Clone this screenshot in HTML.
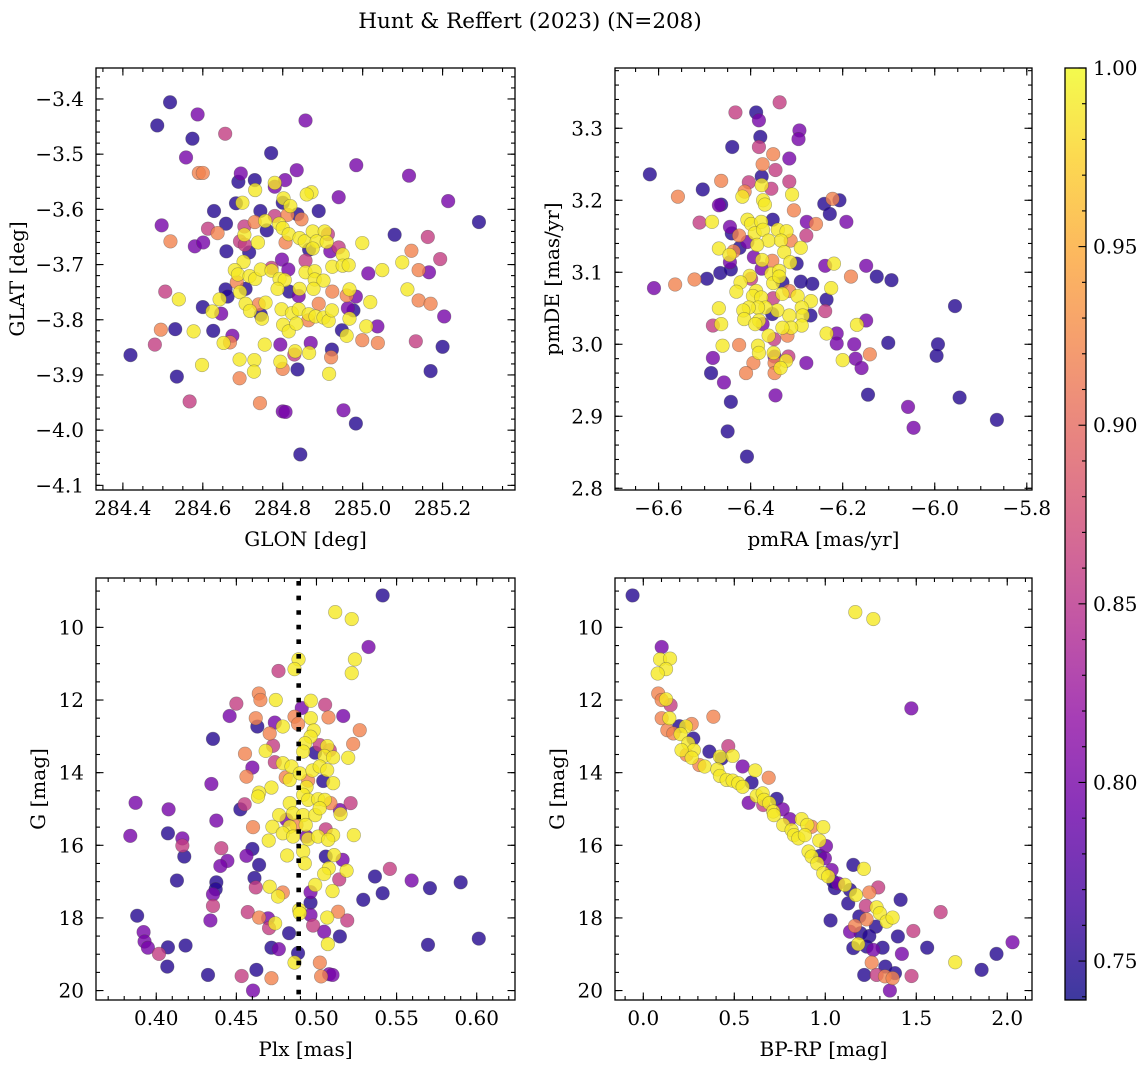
<!DOCTYPE html>
<html><head><meta charset="utf-8"><style>
html,body{margin:0;padding:0;background:#fff;}
svg{display:block;font-family:"DejaVu Serif","Liberation Serif",serif;}
</style></head><body>
<svg id="fig" width="1148" height="1067" viewBox="0 0 1148 1067" xmlns="http://www.w3.org/2000/svg">
<text x="530" y="28" font-size="21.5" text-anchor="middle">Hunt &amp; Reffert (2023) (N=208)</text>
</svg>
<script>
// ---- Panel 1: GLON vs GLAT ----
const glon=[284.518,284.486,284.587,284.574,284.656,284.857,284.771,284.558,284.590,284.600,284.695,284.689,284.730,284.806,284.835,284.984,285.116,284.780,284.731,284.780,284.872,284.860,284.940,285.214,285.291,284.628,284.683,284.699,284.744,284.800,284.802,284.819,284.890,284.812,284.837,284.847,284.756,284.760,284.780,284.730,284.497,284.613,284.658,284.637,284.704,284.704,284.791,284.800,284.815,284.842,284.855,284.875,284.905,284.913,284.885,284.910,284.519,284.580,284.601,284.659,284.693,284.705,284.716,284.738,284.807,284.866,284.875,284.919,284.940,284.999,285.080,285.122,285.163,285.194,285.014,285.049,285.099,285.140,285.166,284.950,284.924,284.950,284.965,284.702,284.680,284.688,284.685,284.717,284.731,284.745,284.772,284.772,284.798,284.814,284.792,284.805,284.787,284.857,284.857,284.880,284.880,284.902,284.877,284.842,284.816,284.840,284.924,284.967,284.960,284.983,285.019,285.112,285.140,285.170,285.204,284.506,284.540,284.600,284.642,284.657,284.662,284.707,284.693,284.707,284.718,284.740,284.745,284.748,284.757,284.646,284.624,284.797,284.823,284.840,284.801,284.815,284.834,284.864,284.865,284.882,284.890,284.902,284.915,284.923,284.963,284.977,284.967,285.009,285.037,284.960,284.948,284.999,285.038,285.133,285.200,285.170,284.495,284.480,284.419,284.531,284.577,284.626,284.674,284.652,284.668,284.755,284.794,284.829,284.831,284.870,284.866,284.923,284.921,284.598,284.692,284.692,284.729,284.728,284.794,284.800,284.837,284.916,284.535,284.567,284.743,284.800,284.807,284.952,284.983,284.844];
const glat=[-3.406,-3.448,-3.428,-3.472,-3.463,-3.439,-3.498,-3.506,-3.534,-3.534,-3.535,-3.550,-3.547,-3.547,-3.529,-3.520,-3.539,-3.552,-3.565,-3.559,-3.569,-3.573,-3.578,-3.585,-3.623,-3.603,-3.589,-3.588,-3.603,-3.588,-3.580,-3.594,-3.603,-3.610,-3.609,-3.618,-3.621,-3.638,-3.612,-3.623,-3.629,-3.635,-3.626,-3.643,-3.631,-3.646,-3.626,-3.634,-3.645,-3.652,-3.658,-3.640,-3.640,-3.645,-3.658,-3.659,-3.658,-3.667,-3.660,-3.676,-3.658,-3.664,-3.678,-3.660,-3.660,-3.673,-3.671,-3.676,-3.669,-3.661,-3.646,-3.675,-3.650,-3.690,-3.716,-3.710,-3.696,-3.710,-3.714,-3.682,-3.704,-3.702,-3.701,-3.695,-3.710,-3.718,-3.732,-3.721,-3.726,-3.709,-3.706,-3.711,-3.691,-3.709,-3.726,-3.728,-3.744,-3.693,-3.714,-3.712,-3.727,-3.729,-3.744,-3.744,-3.749,-3.757,-3.749,-3.745,-3.756,-3.758,-3.768,-3.745,-3.765,-3.771,-3.794,-3.749,-3.763,-3.777,-3.763,-3.745,-3.758,-3.744,-3.750,-3.771,-3.784,-3.772,-3.791,-3.798,-3.769,-3.789,-3.785,-3.781,-3.788,-3.781,-3.809,-3.821,-3.807,-3.801,-3.790,-3.794,-3.771,-3.796,-3.802,-3.783,-3.779,-3.783,-3.798,-3.812,-3.812,-3.829,-3.819,-3.837,-3.842,-3.839,-3.849,-3.893,-3.818,-3.845,-3.864,-3.817,-3.821,-3.820,-3.829,-3.842,-3.841,-3.845,-3.845,-3.863,-3.857,-3.842,-3.860,-3.854,-3.868,-3.882,-3.872,-3.906,-3.873,-3.894,-3.876,-3.889,-3.890,-3.898,-3.903,-3.948,-3.951,-3.966,-3.967,-3.964,-3.988,-4.044];
const prob1=[.75,.75,.8,.75,.86,.8,.75,.8,.92,.92,.8,.75,.75,.8,.8,.8,.8,.99,.99,.8,.99,.99,.8,.8,.75,.75,.75,.99,.75,.75,.99,.99,.75,.92,.75,.92,.99,.75,.86,.92,.8,.86,.75,.92,.86,.99,.99,.99,.99,.99,.99,.99,.99,.86,.99,.99,.92,.8,.8,.75,.86,.86,.75,.99,.92,.75,.99,.8,.86,.99,.75,.92,.86,.86,.8,.99,.99,.92,.8,.99,.99,.99,.99,.99,.99,.99,.92,.99,.99,.99,.86,.99,.8,.8,.99,.99,.99,.86,.99,.99,.99,.99,.99,.99,.75,.8,.92,.99,.92,.8,.99,.99,.92,.92,.8,.86,.99,.75,.99,.75,.75,.75,.99,.99,.99,.92,.75,.99,.99,.8,.99,.99,.99,.99,.99,.99,.99,.92,.99,.99,.92,.99,.99,.99,.8,.75,.99,.99,.8,.99,.75,.92,.92,.86,.75,.75,.92,.86,.75,.75,.99,.75,.8,.99,.92,.99,.8,.86,.99,.8,.99,.75,.92,.99,.99,.92,.99,.99,.99,.92,.75,.99,.75,.86,.92,.8,.8,.8,.75,.75];
const glonTicks=["284.4","284.6","284.8","285.0","285.2"];
const glatTicks=["−3.4","−3.5","−3.6","−3.7","−3.8","−3.9","−4.0","−4.1"];

// ---- Panel 2: pmRA vs pmDE ----
const pmra=[-6.619,-6.610,-6.558,-6.564,-6.522,-6.511,-6.504,-6.495,-6.484,-6.469,-6.464,-6.464,-6.466,-6.469,-6.469,-6.482,-6.482,-6.486,-6.464,-6.461,-6.458,-6.443,-6.450,-6.408,-6.433,-6.388,-6.382,-6.379,-6.382,-6.440,-6.337,-6.294,-6.296,-6.351,-6.316,-6.374,-6.346,-6.376,-6.404,-6.316,-6.376,-6.355,-6.413,-6.418,-6.310,-6.373,-6.369,-6.306,-6.240,-6.222,-6.207,-6.228,-6.192,-6.258,-6.278,-6.279,-6.352,-6.407,-6.399,-6.377,-6.445,-6.441,-6.425,-6.391,-6.373,-6.341,-6.322,-6.361,-6.334,-6.313,-6.386,-6.407,-6.424,-6.437,-6.446,-6.445,-6.443,-6.393,-6.375,-6.353,-6.327,-6.314,-6.300,-6.291,-6.238,-6.219,-6.149,-6.182,-6.126,-6.094,-6.266,-6.291,-6.376,-6.402,-6.422,-6.431,-6.399,-6.388,-6.355,-6.338,-6.331,-6.351,-6.338,-6.395,-6.377,-6.351,-6.331,-6.316,-6.298,-6.269,-6.225,-6.235,-6.238,-6.270,-6.289,-6.287,-6.316,-6.342,-6.353,-6.368,-6.384,-6.404,-6.416,-6.414,-6.382,-6.374,-6.390,-6.289,-6.312,-6.331,-6.320,-6.361,-6.349,-6.384,-6.382,-6.425,-6.350,-6.348,-6.318,-6.323,-6.348,-6.335,-6.348,-6.394,-6.410,-6.279,-6.235,-6.213,-6.213,-6.169,-6.149,-6.175,-6.200,-6.172,-6.141,-6.159,-6.101,-6.145,-6.346,-6.058,-6.046,-5.993,-5.996,-5.956,-5.946,-5.865];
const pmde=[3.236,3.078,3.205,3.083,3.090,3.169,3.215,3.091,3.170,3.193,3.194,3.227,3.099,3.133,3.050,3.026,2.981,2.960,3.028,2.998,2.947,2.920,2.879,2.844,3.322,3.322,3.311,3.288,3.274,3.274,3.336,3.297,3.285,3.264,3.258,3.250,3.242,3.233,3.225,3.226,3.221,3.216,3.212,3.205,3.208,3.200,3.194,3.186,3.195,3.202,3.200,3.181,3.170,3.167,3.170,3.151,3.173,3.173,3.167,3.170,3.163,3.154,3.151,3.154,3.159,3.159,3.157,3.144,3.144,3.144,3.138,3.142,3.134,3.129,3.124,3.114,3.104,3.121,3.117,3.116,3.128,3.114,3.112,3.134,3.109,3.112,3.109,3.094,3.094,3.089,3.084,3.087,3.105,3.095,3.086,3.073,3.091,3.074,3.098,3.102,3.086,3.085,3.094,3.067,3.065,3.064,3.070,3.074,3.067,3.060,3.078,3.062,3.046,3.040,3.051,3.040,3.040,3.047,3.042,3.051,3.051,3.051,3.047,3.035,3.033,3.028,3.028,3.026,3.023,3.023,3.012,3.012,3.007,2.998,2.988,2.999,2.988,2.983,2.983,2.977,2.974,2.967,2.960,2.974,2.960,2.974,3.015,3.015,3.001,3.027,3.033,3.000,2.978,2.980,2.986,2.967,3.002,2.930,2.929,2.913,2.884,3.000,2.984,3.053,2.926,2.895];
const prob2=[.75,.8,.92,.92,.92,.86,.75,.75,.99,.8,.75,.92,.75,.99,.99,.86,.8,.75,.99,.99,.8,.75,.75,.75,.86,.75,.8,.75,.86,.75,.86,.8,.8,.92,.8,.92,.86,.75,.86,.86,.99,.86,.92,.99,.99,.99,.99,.92,.75,.92,.75,.75,.8,.92,.8,.86,.75,.99,.99,.99,.8,.75,.92,.99,.99,.99,.99,.99,.99,.92,.99,.8,.75,.92,.99,.8,.75,.8,.99,.92,.99,.99,.75,.99,.8,.99,.8,.92,.75,.75,.75,.75,.8,.99,.99,.99,.86,.99,.99,.99,.75,.99,.99,.99,.99,.86,.99,.92,.99,.99,.99,.75,.86,.75,.99,.99,.99,.99,.75,.99,.99,.99,.99,.99,.99,.8,.99,.99,.99,.99,.92,.99,.86,.99,.99,.92,.99,.8,.86,.99,.92,.99,.92,.92,.92,.8,.99,.8,.8,.99,.8,.8,.99,.8,.92,.8,.75,.75,.8,.8,.8,.75,.75,.75,.75,.75];
const pmraTicks=["−6.6","−6.4","−6.2","−6.0","−5.8"];
const pmdeTicks=["3.3","3.2","3.1","3.0","2.9","2.8"];

// ---- Panel 3: Plx vs G ----
const plx=[.5413,.5117,.522,.5325,.524,.522,.4888,.4863,.4763,.464,.465,.4746,.450,.4458,.4965,.5054,.4908,.5167,.5075,.4965,.4863,.4885,.4621,.4631,.474,.479,.4708,.4983,.4963,.4929,.527,.5229,.502,.5067,.5083,.505,.5104,.5198,.4992,.4917,.4729,.4683,.4554,.4354,.474,.479,.4844,.46,.4563,.4808,.4833,.4896,.4948,.4975,.502,.5067,.5042,.5104,.4719,.4642,.4635,.4938,.4917,.4948,.501,.5052,.5087,.4833,.4344,.3871,.4077,.4552,.4525,.4375,.4767,.4813,.4854,.4917,.4992,.502,.5146,.515,.5213,.4725,.4604,.4833,.4875,.4933,.479,.4854,.4938,.4948,.501,.5058,.5104,.5073,.5233,.4702,.3838,.4073,.4163,.4163,.4406,.46,.4563,.4817,.4917,.4927,.5058,.511,.5163,.4175,.4444,.44,.4642,.5077,.5188,.5458,.5365,.5048,.5142,.5594,.5708,.59,.4129,.4375,.4371,.4354,.4613,.4621,.4708,.479,.476,.4992,.51,.4963,.4963,.5413,.5292,.4354,.3881,.4338,.4571,.4642,.4698,.4742,.4704,.4892,.4896,.4963,.4979,.5067,.5135,.5192,.5048,.5146,.5071,.4829,.3921,.3927,.3948,.4017,.4073,.4183,.4069,.4719,.4765,.4885,.4863,.5021,.4323,.4533,.4625,.4719,.5029,.5079,.51,.4604,.5696,.6013];
const gmag3=[9.12,9.58,9.77,10.54,10.88,11.26,10.88,11.15,11.20,11.82,12.0,12.0,12.10,12.44,12.02,12.13,12.22,12.44,12.48,12.50,12.46,12.66,12.50,12.73,12.62,12.73,12.92,12.84,13.01,13.19,12.83,13.21,13.24,13.27,13.38,13.54,13.58,13.59,13.45,13.42,13.26,13.40,13.48,13.07,13.71,13.74,13.83,13.86,14.11,14.13,14.20,14.02,14.22,13.94,13.83,13.93,14.23,14.29,14.41,14.55,14.66,14.40,14.61,14.75,14.73,14.75,14.84,14.84,14.31,14.83,15.01,14.87,15.01,15.32,15.17,15.30,15.12,15.17,15.17,14.98,15.03,15.14,14.84,15.49,15.50,15.49,15.44,15.44,15.67,15.76,15.76,15.83,15.76,15.56,15.72,15.85,15.72,15.87,15.74,15.67,15.81,16.01,16.08,16.10,16.29,16.28,16.17,16.50,16.31,16.27,16.40,16.31,16.43,16.57,16.54,16.63,16.70,16.65,16.86,16.79,16.94,16.97,17.18,17.02,16.97,17.02,17.21,17.35,16.90,17.16,17.14,17.30,17.41,17.09,17.26,17.29,17.58,17.32,17.50,17.67,17.94,18.07,17.84,17.99,18.01,18.15,18.28,17.78,17.87,17.92,18.21,17.99,17.83,18.07,18.38,18.51,18.72,18.42,18.39,18.65,18.82,18.99,18.81,18.76,19.34,18.82,18.86,18.97,19.23,19.23,19.57,19.60,19.43,19.66,19.61,19.55,19.57,20.0,18.74,18.57];
const prob3=[.75,.99,.99,.8,.99,.99,.99,.99,.86,.92,.92,.99,.86,.8,.99,.86,.8,.8,.92,.99,.92,.92,.92,.75,.8,.99,.92,.99,.99,.99,.92,.92,.86,.99,.86,.99,.99,.99,.75,.99,.86,.99,.92,.75,.86,.99,.99,.8,.92,.92,.99,.99,.92,.99,.99,.99,.75,.99,.99,.99,.99,.99,.99,.99,.99,.99,.92,.99,.8,.8,.8,.86,.75,.8,.99,.8,.99,.99,.99,.99,.8,.99,.86,.99,.92,.99,.92,.99,.99,.99,.8,.99,.99,.86,.99,.99,.99,.99,.8,.75,.8,.86,.86,.75,.8,.99,.99,.99,.75,.99,.8,.75,.8,.8,.75,.99,.99,.86,.75,.99,.86,.8,.75,.75,.75,.75,.75,.8,.75,.86,.99,.92,.99,.99,.99,.8,.75,.75,.75,.86,.75,.8,.86,.92,.8,.99,.86,.99,.99,.8,.86,.99,.92,.86,.8,.75,.99,.75,.8,.8,.8,.86,.75,.75,.75,.75,.8,.75,.99,.92,.75,.86,.75,.92,.92,.8,.8,.8,.75,.75];
const plxTicks=["0.40","0.45","0.50","0.55","0.60"];
const gTicks=["10","12","14","16","18","20"];
const plxRef=[0.4889];

// ---- Panel 4: BP-RP vs G ----
const bprp=[-.059,1.165,1.264,.101,.092,.147,.125,.079,1.473,.082,.101,.125,.150,.101,.143,.385,.132,.165,.198,.234,.266,.205,.275,.247,.278,.210,.238,.266,.363,.467,.430,.421,.491,.308,.337,.407,.546,.615,.689,.421,.458,.491,.522,.595,.546,.579,.623,.656,.663,.733,.659,.692,.714,.718,.766,.806,.769,.815,.870,.901,.925,.989,.828,.852,.888,.967,1.004,.908,.925,.971,.998,.956,.989,1.035,1.016,1.044,1.053,1.071,1.108,1.154,1.212,1.136,1.168,1.126,1.242,1.291,1.414,1.223,1.282,1.300,1.337,1.370,1.634,1.029,1.187,1.227,1.163,1.278,1.136,1.194,1.242,1.181,1.154,1.227,1.264,1.315,1.399,1.484,1.421,1.560,1.714,1.859,1.941,2.029,1.255,1.330,1.214,1.282,1.328,1.370,1.383,1.474,1.355];
const gmag4=[9.12,9.58,9.77,10.54,10.88,10.86,11.15,11.27,12.23,11.82,12.0,11.98,12.14,12.50,12.50,12.46,12.83,12.92,12.72,12.73,12.66,12.94,13.06,13.19,13.38,13.38,13.51,13.59,13.42,13.27,13.61,13.56,13.54,13.79,13.83,13.91,13.83,13.94,14.14,14.09,14.20,14.22,14.29,14.27,14.39,14.83,14.64,14.57,14.75,14.72,14.89,14.84,15.07,15.17,15.01,15.28,15.44,15.58,15.28,15.44,15.49,15.50,15.72,15.81,15.72,15.87,16.02,16.17,16.31,16.29,16.36,16.50,16.77,16.68,16.86,17.00,17.18,17.05,17.09,16.54,16.65,17.23,17.37,17.60,17.30,17.16,17.50,17.67,17.71,17.87,18.10,17.99,17.84,18.07,17.96,18.04,18.22,18.24,18.38,18.42,18.50,18.72,18.83,18.79,18.88,18.82,18.51,18.36,18.99,18.82,19.22,19.43,18.99,18.67,19.23,19.34,19.57,19.57,19.61,19.66,19.52,19.60,20.0];
const prob4=[.75,.99,.99,.8,.99,.99,.99,.99,.8,.92,.92,.99,.86,.92,.99,.92,.92,.92,.75,.99,.92,.99,.75,.99,.99,.99,.92,.99,.75,.86,.75,.99,.99,.92,.99,.99,.8,.99,.92,.99,.99,.99,.99,.75,.99,.8,.99,.99,.99,.75,.86,.99,.99,.99,.8,.8,.99,.99,.99,.99,.92,.99,.99,.99,.99,.99,.8,.99,.99,.75,.8,.99,.99,.8,.99,.75,.75,.8,.99,.75,.99,.75,.99,.75,.92,.86,.75,.86,.99,.99,.99,.99,.86,.75,.75,.92,.92,.75,.8,.75,.75,.99,.75,.75,.8,.75,.75,.86,.8,.75,.99,.75,.75,.8,.92,.75,.75,.86,.92,.92,.75,.86,.8];
const bprpTicks=["0.0","0.5","1.0","1.5","2.0"];

// ---- Colorbar ----
const cbarTicks=["0.75","0.80","0.85","0.90","0.95","1.00"];
const cbarMin=0.7391, cbarMax=1.0;

const NS="http://www.w3.org/2000/svg";
const svg=document.getElementById('fig');
function el(tag,attrs,parent){const e=document.createElementNS(NS,tag);for(const k in attrs)e.setAttribute(k,attrs[k]);(parent||svg).appendChild(e);return e;}

const stops=["#0d0887","#41049d","#6a00a8","#8f0da4","#b12a90","#cc4778","#e16462","#f2844b","#fca636","#fcce25","#f0f921"];
function hex(h){return [parseInt(h.substr(1,2),16),parseInt(h.substr(3,2),16),parseInt(h.substr(5,2),16)];}
function plasma(t){t=Math.max(0,Math.min(1,t));const f=t*10,i=Math.min(9,Math.floor(f)),u=f-i;const a=hex(stops[i]),b=hex(stops[i+1]);return `rgb(${Math.round(a[0]+(b[0]-a[0])*u)},${Math.round(a[1]+(b[1]-a[1])*u)},${Math.round(a[2]+(b[2]-a[2])*u)})`;}
function cmap(v){return plasma((v-cbarMin)/(cbarMax-cbarMin));}

const TICKFS=20, LABFS=20;

function panel(cfg){
  const {name,L,R,T,B,x0,x1,y0,y1,xs,ys,ps,xt,yt,xMinor,yMinor,xlabel,ylabel,ylx}=cfg;
  const sx=v=>L+(v-x0)/(x1-x0)*(R-L);
  const sy=v=>T+(y0-v)/(y0-y1)*(B-T);
  const g=el('g',{});
  
  
  const clip=el('clipPath',{id:name+'-clip'},g);
  el('rect',{x:L,y:T,width:R-L,height:B-T},clip);
  const pts=el('g',{'clip-path':`url(#${name}-clip)`},g);
  
  
  const n=Math.min(xs.length,ys.length,ps.length);
  const idx=[...Array(n).keys()].sort((a,b)=>ps[a]-ps[b]);
  for(const i of idx){
    const c=el('circle',{cx:sx(xs[i]).toFixed(2),cy:sy(ys[i]).toFixed(2),r:6.8,fill:cmap(ps[i]),'fill-opacity':0.8,stroke:'rgba(70,70,70,0.45)','stroke-width':0.6},pts);
    
    
  }
  if(cfg.vline!==undefined){
    const ln=el('line',{x1:sx(cfg.vline),x2:sx(cfg.vline),y1:T+3,y2:B,stroke:'#000','stroke-width':4.6,'stroke-dasharray':'4.6 10'},g);
    
    
  }
  const tk=el('g',{stroke:'#000','stroke-width':1.1},g);
  
  
  function xtick(v,len){const x=sx(v);if(x<L-0.5||x>R+0.5)return;el('line',{x1:x,x2:x,y1:B,y2:B-len},tk);el('line',{x1:x,x2:x,y1:T,y2:T+len},tk);}
  function ytick(v,len){const y=sy(v);if(y<T-0.5||y>B+0.5)return;el('line',{x1:L,x2:L+len,y1:y,y2:y},tk);el('line',{x1:R,x2:R-len,y1:y,y2:y},tk);}
  const xa=Math.min(x0,x1),xb=Math.max(x0,x1);
  for(let k=Math.ceil(xa/xMinor-1e-6);k*xMinor<=xb+1e-9;k++)xtick(k*xMinor,4);
  const ya=Math.min(y0,y1),yb=Math.max(y0,y1);
  for(let k=Math.ceil(ya/yMinor-1e-6);k*yMinor<=yb+1e-9;k++)ytick(k*yMinor,4);
  const xl=el('g',{'font-size':TICKFS,'text-anchor':'middle'},g);
  
  
  for(const s of xt){const v=parseFloat(s.replace('−','-'));xtick(v,7.5);const t=el('text',{x:sx(v),y:B+25},xl);t.textContent=s;}
  const yl=el('g',{'font-size':TICKFS,'text-anchor':'end'},g);
  
  
  for(const s of yt){const v=parseFloat(s.replace('−','-'));ytick(v,7.5);const t=el('text',{x:L-12,y:sy(v)+7},yl);t.textContent=s;}
  const fr=el('rect',{x:L,y:T,width:R-L,height:B-T,fill:'none',stroke:'#000','stroke-width':1.3},g);
  
  
  const xlab=el('text',{x:(L+R)/2,y:B+56,'font-size':LABFS,'text-anchor':'middle'},g);
  xlab.textContent=xlabel;
  
  
  const yc=(T+B)/2;
  const ylab=el('text',{x:ylx,y:yc,'font-size':LABFS,'text-anchor':'middle',transform:`rotate(-90 ${ylx} ${yc})`},g);
  ylab.textContent=ylabel;
  
  
}

panel({name:'sky',L:96,R:515,T:68,B:490,x0:284.3327,x1:285.3812,y0:-3.3439,y1:-4.1084,xs:glon,ys:glat,ps:prob1,xt:glonTicks,yt:glatTicks,xMinor:0.05,yMinor:0.02,xlabel:'GLON [deg]',ylabel:'GLAT [deg]',ylx:24});
panel({name:'pm',L:615,R:1032,T:68,B:490,x0:-6.6947,x1:-5.7887,y0:3.3837,y1:2.7976,xs:pmra,ys:pmde,ps:prob2,xt:pmraTicks,yt:pmdeTicks,xMinor:0.05,yMinor:0.02,xlabel:'pmRA [mas/yr]',ylabel:'pmDE [mas/yr]',ylx:559});
panel({name:'plx',L:96,R:515,T:578,B:1000,x0:0.3624,x1:0.6239,y0:8.64,y1:20.26,xs:plx,ys:gmag3,ps:prob3,xt:plxTicks,yt:gTicks,xMinor:0.01,yMinor:0.5,xlabel:'Plx [mas]',ylabel:'G [mag]',ylx:45,vline:plxRef[0]});
panel({name:'cmd',L:615,R:1032,T:578,B:1000,x0:-0.1555,x1:2.136,y0:8.64,y1:20.26,xs:bprp,ys:gmag4,ps:prob4,xt:bprpTicks,yt:gTicks,xMinor:0.1,yMinor:0.5,xlabel:'BP-RP [mag]',ylabel:'G [mag]',ylx:564});

// colorbar
(function(){
  const L=1065,R=1086,T=68,B=1000;
  const sy=v=>B-(v-cbarMin)/(cbarMax-cbarMin)*(B-T);
  const g=el('g',{});
  
  
  const defs=el('defs',{},g);
  const lg=el('linearGradient',{id:'cbgrad',x1:0,y1:1,x2:0,y2:0},defs);
  for(let i=0;i<=20;i++){el('stop',{offset:i/20,'stop-color':plasma(i/20)},lg);}
  el('rect',{x:L,y:T,width:R-L,height:B-T,fill:'url(#cbgrad)','fill-opacity':0.8},g);
  const tk=el('g',{stroke:'#000','stroke-width':1.1},g);
  for(let k=74;k<=100;k++){const v=k/100;if(v<cbarMin)continue;const y=sy(v);el('line',{x1:R,x2:R-(k%5===0?7.5:4),y1:y,y2:y},tk);}
  const lab=el('g',{'font-size':TICKFS},g);
  
  
  for(const s of cbarTicks){const t=el('text',{x:R+7,y:sy(parseFloat(s))+7},lab);t.textContent=s;}
  const fr=el('rect',{x:L,y:T,width:R-L,height:B-T,fill:'none',stroke:'#000','stroke-width':1.3},g);
  
  
})();
</script>
</body></html>
